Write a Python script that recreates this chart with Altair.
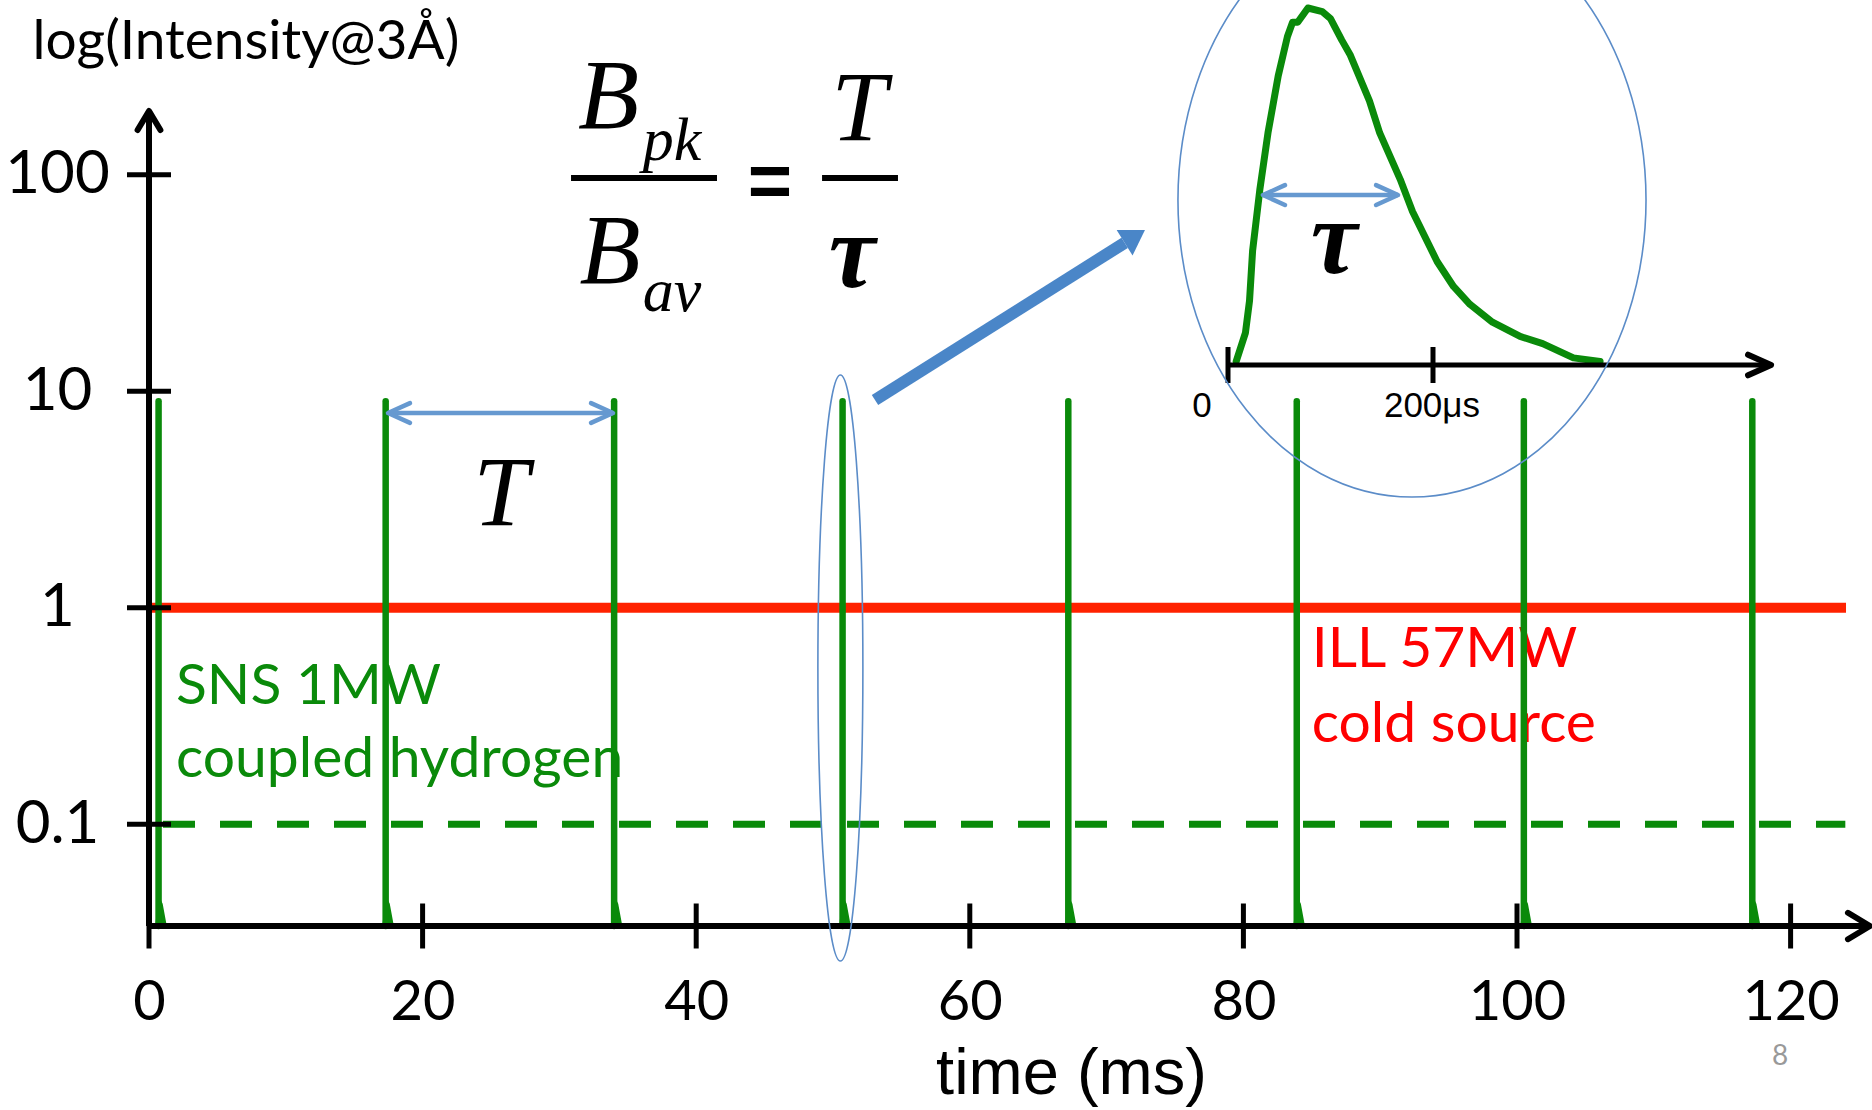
import altair as alt
import pandas as pd

# ---------------- data ----------------
# main plot: time (ms) on x, log intensity on y
x_ticks = [0, 20, 40, 60, 80, 100, 120]
y_ticks = [0.1, 1, 10, 100]
spike_times = [0.7, 17.3, 34.0, 50.7, 67.2, 83.9, 100.5, 117.2]   # ms
spike_peak = 9.0
ill_level = 1.0          # ILL 57MW cold source
sns_average = 0.1        # SNS time-averaged (dashed)
# small flare at the foot of each SNS pulse (offset ms, intensity)
base_dt = [-0.25, 0.0, 0.3, 0.6]
base_v = [0.0339, 0.047, 0.043, 0.0339]

# inset: one SNS pulse (time in microseconds, relative intensity %)
inset_us = [8, 17, 21, 24, 31, 39, 49, 58, 63, 68, 78, 92, 100, 111, 119, 138,
            148, 168, 180, 204, 220, 236, 258, 285, 307, 337, 363]
inset_I = [1, 9, 18, 32, 49, 65, 81, 92, 96, 96, 100, 99, 97, 91, 87, 74,
           65, 52, 43, 29, 22, 17, 12, 8, 6, 2, 1]
inset_tick_us = [0, 200]
inset_tick_labels = ["0", "200μs"]
tau_from, tau_to, tau_level = 34.1, 165.9, 47.6

# ---------------- scales ----------------
Y_MIN, Y_MAX = 0.03391, 641.9
X_MAX = 125.95
xs = alt.Scale(domain=[0, X_MAX], nice=False, zero=False)
ys = alt.Scale(type="log", domain=[Y_MIN, Y_MAX], nice=False)
xi = alt.Scale(domain=[-1052.7, 628.3], nice=False, zero=False)
yi = alt.Scale(domain=[-157.14, 102.24], nice=False, zero=False)

GREEN = "#0a8a0a"
RED_LINE = "#ff2200"
RED_TEXT = "#ff0000"
BLUE = "#5b8cc8"
ARROW_BLUE = "#6699d0"
BIG_ARROW = "#4a86c8"

x_axis = alt.Axis(values=x_ticks, domain=False, ticks=False, tickSize=0, grid=False,
                  labelFont="Lato", labelFontSize=56, labelColor="black",
                  labelPadding=49, labelFlush=False, labelOverlap=False,
                  title="time (ms)", titleFont="Liberation Sans", titleFontSize=65,
                  titleFontWeight="normal", titleColor="black", titleX=922, titleY=167,
                  titleAlign="center", titleBaseline="alphabetic")
y_axis = alt.Axis(values=y_ticks, format="~g", domain=False, ticks=False, tickSize=0,
                  grid=False, labelFont="Lato", labelFontSize=60, labelColor="black",
                  labelPadding=92, labelAlign="center", labelBaseline="middle",
                  labelOverlap=False, labelFlush=False,
                  title="log(Intensity@3Å)", titleFont="Lato", titleFontSize=55,
                  titleFontWeight="normal", titleColor="black", titleAngle=0,
                  titleX=-117, titleY=58, titleAlign="left", titleBaseline="alphabetic")


def X(f="t"):
    return alt.X(f"{f}:Q", scale=xs, axis=x_axis)


def Y(f="v"):
    return alt.Y(f"{f}:Q", scale=ys, axis=y_axis)


def XI(f="us"):
    return alt.X(f"{f}:Q", scale=xi, axis=None)


def YI(f="I"):
    return alt.Y(f"{f}:Q", scale=yi, axis=None)


def ellipse_path(a, b):
    k = 0.5523
    return (f"M {a} 0 C {a} {k*b:.4f} {k*a:.4f} {b} 0 {b} "
            f"C {-k*a:.4f} {b} {-a} {k*b:.4f} {-a} 0 "
            f"C {-a} {-k*b:.4f} {-k*a:.4f} {-b} 0 {-b} "
            f"C {k*a:.4f} {-b} {a} {-k*b:.4f} {a} 0 Z")


CHEV_UP = "M -0.6 1 L 0 0 L 0.6 1"
CHEV_RIGHT = "M -1 -0.6 L 0 0 L -1 0.6"
CHEV_R_THIN = "M -1 -0.45 L 0 0 L -1 0.45"
CHEV_L_THIN = "M 1 -0.45 L 0 0 L 1 0.45"
HLINE = "M -1 0 L 1 0"
VLINE = "M 0 -1 L 0 1"
TRI = "M 0 -1 L 1.25 1 L -1.25 1 Z"

# ---------------- main layers ----------------
def text_layer(rows, **kw):
    df = pd.DataFrame(rows, columns=["label", "t", "v"])
    return alt.Chart(df).mark_text(**kw).encode(x=X(), y=Y(), text="label:N")


texts = [
    text_layer([("SNS 1MW", 1.97, 0.3594), ("coupled hydrogen", 1.97, 0.1654)],
               font="Lato", fontSize=57, color=GREEN, align="left", baseline="alphabetic"),
    text_layer([("ILL 57MW", 85.0, 0.5328), ("cold source", 85.0, 0.2399)],
               font="Lato", fontSize=57, color=RED_TEXT, align="left", baseline="alphabetic"),
    text_layer([("B", 33.59, 164.5), ("B", 33.70, 31.64), ("T", 51.90, 144.8), ("T", 25.73, 2.413)],
               font="Liberation Serif", fontStyle="italic", fontSize=100, color="black",
               align="center", baseline="alphabetic"),
    text_layer([("pk", 36.1, 117.0), ("av", 36.1, 23.49)],
               font="Liberation Serif", fontStyle="italic", fontSize=62, color="black",
               align="left", baseline="alphabetic"),
    text_layer([("τ", 51.39, 30.33)],
               font="Liberation Serif", fontStyle="italic", fontWeight="bold", fontSize=105,
               color="black", align="center", baseline="alphabetic"),
    text_layer([("=", 45.39, 71.3)],
               font="Liberation Sans", fontWeight="bold", fontSize=76, color="black",
               align="center", baseline="alphabetic"),
    text_layer([("8", 119.23, 0.00773)],
               font="Lato", fontSize=28, color="#999999", align="center", baseline="alphabetic"),
]

hlines = pd.DataFrame({"t": [0, 0], "t2": [124.05, 124.0], "v": [ill_level, sns_average],
                       "kind": ["ill", "sns"]})
red_line = alt.Chart(hlines[hlines.kind == "ill"]).mark_rule(
    color=RED_LINE, strokeWidth=10).encode(x=X(), x2="t2:Q", y=Y())
dash_line = alt.Chart(hlines[hlines.kind == "sns"]).mark_rule(
    color=GREEN, strokeWidth=7, strokeDash=[32, 25], strokeDashOffset=-14).encode(x=X(), x2="t2:Q", y=Y())

spikes_df = pd.DataFrame({"t": spike_times, "v": [Y_MIN] * len(spike_times),
                          "v2": [spike_peak] * len(spike_times)})
spikes = alt.Chart(spikes_df).mark_rule(color=GREEN, strokeWidth=6.5, strokeCap="round").encode(
    x=X(), y=Y(), y2="v2:Q")

base_rows = []
for k, ts in enumerate(spike_times):
    for dt, bv in zip(base_dt, base_v):
        base_rows.append({"k": k, "t": ts + dt, "v": bv, "v2": Y_MIN})
bases = alt.Chart(pd.DataFrame(base_rows)).mark_area(color=GREEN, opacity=1).encode(
    x=X(), y=Y(), y2="v2:Q", detail="k:N")

axes_df = pd.DataFrame({"t": [0, 0], "t2": [0, 125.80], "v": [Y_MIN, Y_MIN], "v2": [197.1, Y_MIN]})
axis_lines = alt.Chart(axes_df).mark_rule(color="black", strokeWidth=6).encode(
    x=X(), x2="t2:Q", y=Y(), y2="v2:Q")
up_head = alt.Chart(pd.DataFrame({"t": [0], "v": [197.1]})).mark_point(
    shape=CHEV_UP, size=1444, filled=False, color="black", strokeWidth=6, opacity=1,
    strokeCap="round", strokeJoin="round").encode(x=X(), y=Y())
right_head = alt.Chart(pd.DataFrame({"t": [125.80], "v": [Y_MIN]})).mark_point(
    shape=CHEV_RIGHT, size=1936, filled=False, color="black", strokeWidth=6, opacity=1,
    strokeCap="round", strokeJoin="round").encode(x=X(), y=Y())
ytick_marks = alt.Chart(pd.DataFrame({"t": [0] * len(y_ticks), "v": y_ticks})).mark_point(
    shape=HLINE, size=1936, filled=False, color="black", strokeWidth=5, opacity=1).encode(x=X(), y=Y())
xtick_marks = alt.Chart(pd.DataFrame({"t": x_ticks, "v": [Y_MIN] * len(x_ticks)})).mark_point(
    shape=VLINE, size=2025, filled=False, color="black", strokeWidth=5, opacity=1).encode(x=X(), y=Y())

small_ellipse = alt.Chart(pd.DataFrame({"t": [50.54], "v": [0.527]})).mark_point(
    shape=ellipse_path(0.0768, 1), size=343396, filled=False, color=BLUE, strokeWidth=1.6,
    opacity=1).encode(x=X(), y=Y())

t_arrow = alt.Chart(pd.DataFrame({"t": [17.47], "t2": [33.92], "v": [7.94]})).mark_rule(
    color=ARROW_BLUE, strokeWidth=4.5).encode(x=X(), x2="t2:Q", y=Y())
t_heads = alt.Chart(pd.DataFrame({"t": [17.47, 33.92], "v": [7.94, 7.94],
                                  "s": ["l", "r"]}))
t_head_l = t_heads.transform_filter("datum.s == 'l'").mark_point(
    shape=CHEV_L_THIN, size=1936, filled=False, color=ARROW_BLUE, strokeWidth=4.5, opacity=1,
    strokeCap="round", strokeJoin="round").encode(x=X(), y=Y())
t_head_r = t_heads.transform_filter("datum.s == 'r'").mark_point(
    shape=CHEV_R_THIN, size=1936, filled=False, color=ARROW_BLUE, strokeWidth=4.5, opacity=1,
    strokeCap="round", strokeJoin="round").encode(x=X(), y=Y())

frac_df = pd.DataFrame({"t": [30.85, 49.20], "t2": [41.52, 54.75], "v": [96.65, 96.65]})
frac_bars = alt.Chart(frac_df).mark_rule(color="black", strokeWidth=6).encode(
    x=X(), x2="t2:Q", y=Y())

big_arrow = alt.Chart(pd.DataFrame({"t": [53.07], "t2": [71.32], "v": [9.117], "v2": [48.5]})).mark_rule(
    color=BIG_ARROW, strokeWidth=12).encode(x=X(), x2="t2:Q", y=Y(), y2="v2:Q")
big_head = alt.Chart(pd.DataFrame({"t": [72.06], "v": [51.95]})).mark_point(
    shape=TRI, size=576, filled=True, color=BIG_ARROW, opacity=1, angle=58).encode(x=X(), y=Y())

main = alt.layer(*texts, red_line, dash_line, bases, spikes, axis_lines, up_head, right_head,
                 ytick_marks, xtick_marks, small_ellipse, t_arrow, t_head_l, t_head_r,
                 frac_bars, big_arrow, big_head)

# ---------------- inset layers ----------------
curve = alt.Chart(pd.DataFrame({"us": inset_us, "I": inset_I})).mark_line(
    color=GREEN, strokeWidth=7, strokeJoin="round", strokeCap="round").encode(x=XI(), y=YI())
inset_axis = alt.Chart(pd.DataFrame({"us": [0], "us2": [529.8], "I": [0]})).mark_rule(
    color="black", strokeWidth=5).encode(x=XI(), x2="us2:Q", y=YI())
inset_head = alt.Chart(pd.DataFrame({"us": [529.8], "I": [0]})).mark_point(
    shape=CHEV_R_THIN, size=2116, filled=False, color="black", strokeWidth=6, opacity=1,
    strokeCap="round", strokeJoin="round").encode(x=XI(), y=YI())
inset_ticks = alt.Chart(pd.DataFrame({"us": inset_tick_us, "I": [0, 0]})).mark_point(
    shape=VLINE, size=1296, filled=False, color="black", strokeWidth=5, opacity=1).encode(x=XI(), y=YI())
inset_labels = alt.Chart(pd.DataFrame({"us": [-25.4, 199], "I": [-14.7, -14.7],
                                       "label": inset_tick_labels})).mark_text(
    font="Liberation Sans", fontSize=35, color="black", align="center", baseline="alphabetic").encode(
    x=XI(), y=YI(), text="label:N")
tau_line = alt.Chart(pd.DataFrame({"us": [tau_from], "us2": [tau_to], "I": [tau_level]})).mark_rule(
    color=ARROW_BLUE, strokeWidth=4.5).encode(x=XI(), x2="us2:Q", y=YI())
tau_head_l = alt.Chart(pd.DataFrame({"us": [tau_from], "I": [tau_level]})).mark_point(
    shape=CHEV_L_THIN, size=1936, filled=False, color=ARROW_BLUE, strokeWidth=4.5, opacity=1,
    strokeCap="round", strokeJoin="round").encode(x=XI(), y=YI())
tau_head_r = alt.Chart(pd.DataFrame({"us": [tau_to], "I": [tau_level]})).mark_point(
    shape=CHEV_R_THIN, size=1936, filled=False, color=ARROW_BLUE, strokeWidth=4.5, opacity=1,
    strokeCap="round", strokeJoin="round").encode(x=XI(), y=YI())
tau_text = alt.Chart(pd.DataFrame({"us": [103.4], "I": [25.8], "label": ["τ"]})).mark_text(
    font="Liberation Serif", fontStyle="italic", fontWeight="bold", fontSize=105, color="black",
    align="center", baseline="alphabetic").encode(x=XI(), y=YI(), text="label:N")
big_ellipse = alt.Chart(pd.DataFrame({"us": [179.5], "I": [46.2]})).mark_point(
    shape=ellipse_path(0.788, 1), size=352836, filled=False, color=BLUE, strokeWidth=1.6,
    opacity=1).encode(x=XI(), y=YI())

inset = alt.layer(curve, inset_axis, inset_head, inset_ticks, inset_labels, tau_line,
                  tau_head_l, tau_head_r, tau_text, big_ellipse)

chart = alt.layer(main, inset).resolve_scale(x="independent", y="independent").properties(
    width=1723, height=926,
    padding={"left": 149, "top": 0, "right": 0, "bottom": 184},
    autosize="none",
    background="white",
).configure_view(stroke=None)

chart.save("out.html", embed_options={"renderer": "svg", "actions": False})
